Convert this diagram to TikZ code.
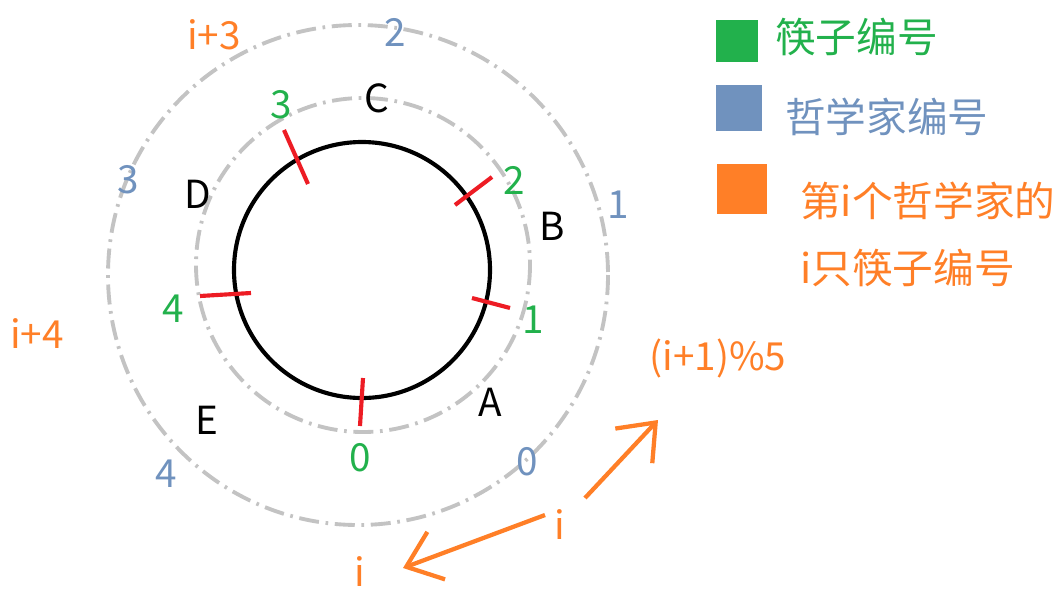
\documentclass[tikz,border=0pt]{standalone}
\usepackage{fontspec}
\setmainfont{Noto Sans CJK SC}
\usetikzlibrary{arrows.meta}
\definecolor{cgreen}{RGB}{34,177,76}
\definecolor{cblue}{RGB}{112,146,190}
\definecolor{corange}{RGB}{255,127,39}
\definecolor{cred}{RGB}{237,28,36}
\definecolor{cgray}{RGB}{195,195,195}
\begin{document}
\begin{tikzpicture}[x=0.75pt,y=-0.75pt,
  lbl/.style={font=\fontsize{29}{33}\selectfont, inner sep=0pt},
  cjk/.style={font=\fontsize{30.5}{34}\selectfont},
  glbl/.style={lbl, text=cgreen},
  blbl/.style={lbl, text=cblue},
  olbl/.style={lbl, text=corange},
  klbl/.style={lbl, text=black},
  ring/.style={draw=cgray, line width=2.9pt, dash pattern=on 15pt off 5pt on 2pt off 5pt},
  table/.style={draw=black, line width=3.1pt},
  chop/.style={draw=cred, line width=3.1pt},
  oarrow/.style={draw=corange, line width=3.2pt, -{Straight Barb[length=24pt,width=38pt,line width=3.2pt]}},
  legsq/.style={inner sep=0pt, minimum size=#1, draw=none}
]
\useasboundingbox (0,0) rectangle (1056,607);

% rings
\draw[ring] (358,275) circle (250);
\draw[ring] (363,265) circle (167);
\draw[table] (362,270) circle (128);

% chopsticks
\draw[chop] (363,378) -- (360,426);
\draw[chop] (472,298) -- (510,308);
\draw[chop] (455,205) -- (492,177);
\draw[chop] (284,130) -- (308,184);
\draw[chop] (200,296) -- (251,293);

% chopstick numbers
\node[glbl] (c0) at (360,458) {0};
\node[glbl] (c1) at (533,320) {1};
\node[glbl] (c2) at (514,180) {2};
\node[glbl] (c3) at (281,105) {3};
\node[glbl] (c4) at (173,309) {4};

% philosopher letters
\node[klbl] (pA) at (490,402) {A};
\node[klbl] (pB) at (552,226) {B};
\node[klbl] (pC) at (377,98) {C};
\node[klbl] (pD) at (198,194) {D};
\node[klbl] (pE) at (207,420) {E};

% philosopher numbers
\node[blbl] (n0) at (527,462) {0};
\node[blbl] (n1) at (618,205) {1};
\node[blbl] (n2) at (395,32) {2};
\node[blbl] (n3) at (128,180) {3};
\node[blbl] (n4) at (166,474) {4};

% orange labels
\node[olbl] (i3) at (214,35) {i+3};
\node[olbl] (i4) at (37,334) {i+4};
\node[olbl] (ip1) at (718,358) {(i+1)\%5};
\node[olbl] (imid) at (560,525) {i};
\node[olbl] (ibot) at (360,572) {i};

% arrows
\coordinate (a1s) at (585,498);
\coordinate (a1e) at (658,420);
\coordinate (a2s) at (545,515);
\coordinate (a2e) at (403,568);
\draw[oarrow] (a1s) -- (a1e);
\draw[oarrow] (a2s) -- (a2e);

% legend
\node[legsq=32pt, fill=cgreen] (sqg) at (737,41) {};
\node[legsq=34pt, fill=cblue] (sqb) at (739,108) {};
\node[legsq=38pt, fill=corange] (sqo) at (742,189) {};
\node[glbl, cjk, anchor=west] (tg) at (775,37) {筷子编号};
\node[blbl, cjk, anchor=west] (tb) at (785,117) {哲学家编号};
\node[olbl, cjk, anchor=west] (to1) at (800,201) {第i个哲学家的};
\node[olbl, cjk, anchor=west] (to2) at (800,268) {i只筷子编号};
\end{tikzpicture}
\end{document}
